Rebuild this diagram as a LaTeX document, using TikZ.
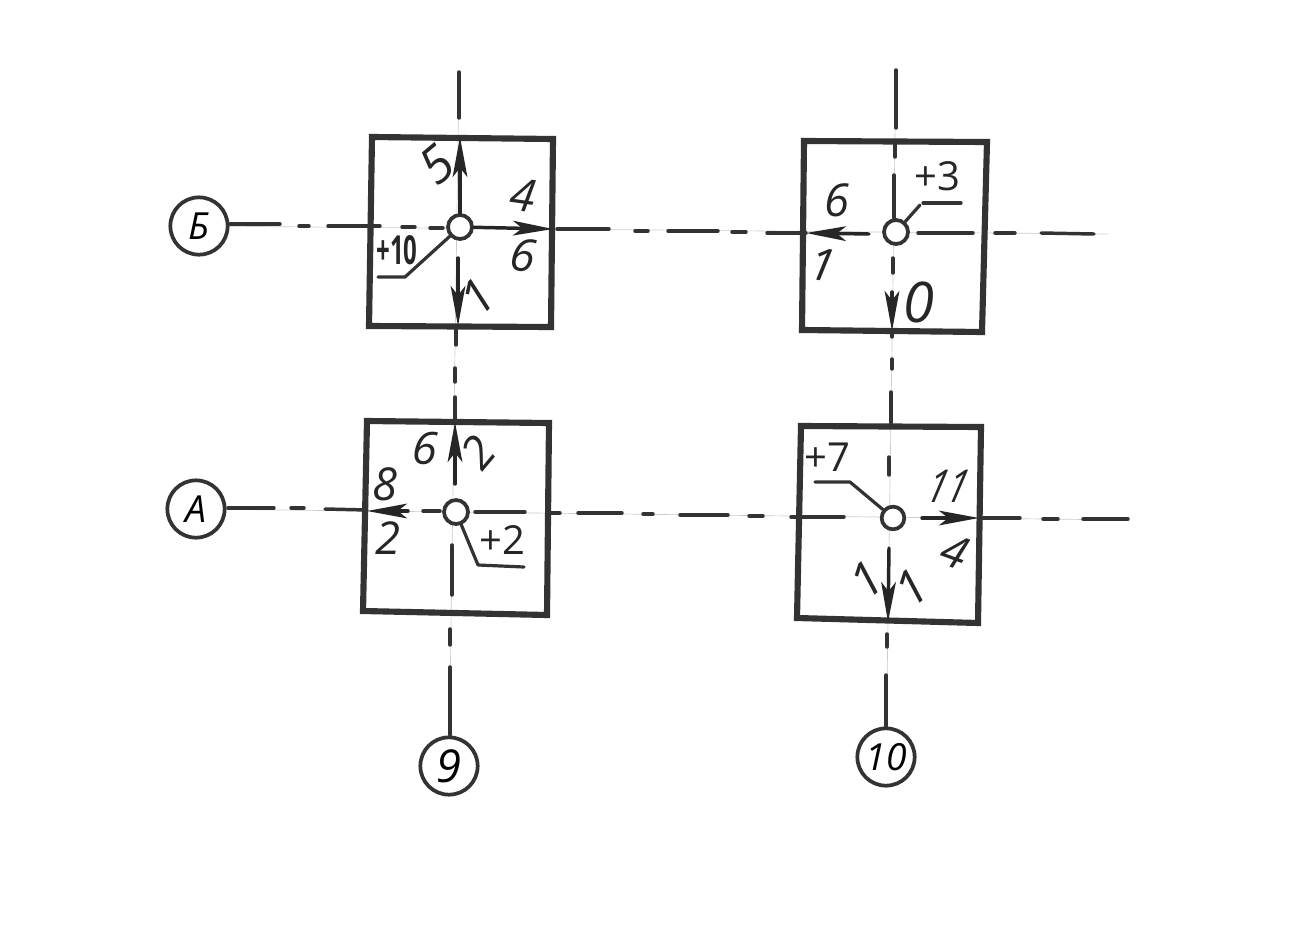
\documentclass[tikz,border=0pt]{standalone}
\usepackage{fontspec}
\setmainfont{Open Sans}
\usetikzlibrary{arrows.meta}
\tikzset{
  x=0.75pt,y=-0.75pt,
  column/.style={draw=black!80,line width=4.6pt,line join=miter},
  faint/.style={draw=black!20,line width=0.5pt},
  dashseg/.style={draw=black!80,line width=2.6pt,line cap=round},
  leader/.style={draw=black!80,line width=2.4pt,line cap=round,line join=round},
  force/.style={draw=black!85,line width=2.6pt,line cap=round,-{Stealth[length=30pt,width=11pt,inset=7pt]}},
  joint/.style={circle,draw=black!80,fill=white,line width=2.8pt,minimum size=18pt,inner sep=0pt},
  bubble/.style={circle,draw=black!80,fill=white,line width=2.8pt,minimum size=43pt,inner sep=0pt,font=\fontsize{28}{30}\selectfont\itshape},
  num/.style={inner sep=0pt,text=black!85,font=\fontsize{34}{36}\selectfont\itshape},
  lvl/.style={inner sep=0pt,text=black!85,font=\fontsize{30}{32}\selectfont}
}
\begin{document}
\begin{tikzpicture}
\useasboundingbox[fill=white] (0,0) rectangle (1289,928);

% grid bubbles and free axis ends
\node[bubble] (B) at (199,226) {Б};
\node[bubble] (A) at (196,509) {А};
\node[bubble,font=\fontsize{34}{36}\selectfont\itshape] (n9) at (449,766) {9};
\node[bubble] (n10) at (886,757) {10};
\coordinate (v9top) at (459,72);
\coordinate (v10top) at (896,70);
\coordinate (hBend) at (1108,234);
\coordinate (hAend) at (1128,520);

% faint axis lines
\draw[faint] (v9top) -- (n9);
\draw[faint] (v10top) -- (n10);
\draw[faint] (B) -- (hBend);
\draw[faint] (A) -- (hAend);

% columns
\draw[column] (372,137) -- (553,139) -- (551,327) -- (369,326) -- cycle;
\draw[column] (804,141) -- (987,142) -- (982,332) -- (802,330) -- cycle;
\draw[column] (367,421) -- (549,423) -- (547,615) -- (363,611) -- cycle;
\draw[column] (801,426) -- (981,427) -- (978,623) -- (797,618) -- cycle;

% axis dashes
\foreach \xa/\ya/\xb/\yb in {
  459/72/459/118, 456/330/456/345, 455/368/455/382, 455/397/455/420,
  452/545/452/595, 450/629/450/645, 450/667/450/735,
  896/70/896/128, 895/142/895/157, 894/175/894/218, 893/258/893/273,
  892/333/892/337, 892/359/892/369, 891/392/891/423, 889/457/889/475,
  887/634/887/647, 886/675/886/727,
  230/224/280/224, 299/226/309/226, 328/226/380/226, 402/227/415/227, 430/228/443/228,
  557/229/609/229, 635/231/648/231, 668/231/718/231, 732/232/746/232, 767/233/806/233,
  918/233/973/233, 995/233/1015/233, 1041/233/1094/234,
  228/508/274/508, 291/508/304/508, 325/509/367/510, 423/511/440/511,
  475/512/525/512, 548/513/560/513, 578/513/622/513, 643/514/653/514, 680/515/728/515,
  749/516/763/516, 791/517/844/517,
  983/518/1020/518, 1043/519/1058/519, 1083/519/1128/519}
  {\draw[dashseg] (\xa,\ya) -- (\xb,\yb);}

% joints
\node[joint] (c1) at (460,227) {};
\node[joint] (c2) at (896,232) {};
\node[joint] (c3) at (456,512) {};
\node[joint,minimum size=17pt] (c4) at (893,518) {};

% forces
\coordinate (t1u) at (460,137); \coordinate (t1d) at (458,326);
\coordinate (t1r) at (553,229);
\coordinate (t2l) at (806,233); \coordinate (t2d) at (892,331);
\coordinate (t3u) at (455,422); \coordinate (t3l) at (367,511);
\coordinate (t4r) at (979,518); \coordinate (t4d) at (888,622);
\draw[force] (c1) -- (t1u);
\draw[force] (458,258) -- (t1d);
\draw[force] (c1) -- (t1r);
\draw[force] (869,234) -- (t2l);
\draw[force] (892,292) -- (t2d);
\draw[force] (455,484) -- (t3u);
\draw[force] (408,511) -- (t3l);
\draw[force] (922,518) -- (t4r);
\draw[force] (889,548) -- (t4d);

% leaders
\coordinate (l1a) at (405,277); \coordinate (l1b) at (378,277);
\coordinate (l2a) at (920,205);
\coordinate (l2b) at (923,203); \coordinate (l2c) at (961,203);
\coordinate (l3a) at (478,565); \coordinate (l3b) at (524,567);
\coordinate (l4a) at (850,482); \coordinate (l4b) at (815,482);
\draw[leader] (c1) -- (l1a) -- (l1b);
\draw[leader] (c2) -- (l2a);
\draw[leader] (l2b) -- (l2c);
\draw[leader] (c3) -- (l3a) -- (l3b);
\draw[leader] (c4) -- (l4a) -- (l4b);

% labels, box 1
\node[num,rotate=40,font=\fontsize{38}{40}\selectfont\itshape] (a1) at (437,165) {5};
\node[num,rotate=-8] (a2) at (523,195) {4};
\node[num,rotate=-8] (a3) at (523,255) {6};
\node[lvl,font=\fontsize{30}{32}\selectfont\bfseries,xscale=0.6,transform shape] (a4) at (397,250) {+10};
\node[num,rotate=45,font=\fontsize{36}{38}\selectfont\itshape] (a5) at (478,297) {1};
% labels, box 2
\node[lvl] (b1) at (937,176) {+3};
\node[num] (b2) at (837,200) {6};
\node[num,rotate=-10] (b3) at (823,265) {1};
\node[num,font=\fontsize{42}{44}\selectfont\itshape] (b4) at (919,302) {0};
% labels, box 3
\node[num,rotate=-4] (d1) at (425,448) {6};
\node[num,rotate=50] (d2) at (478,452) {2};
\node[num] (d3) at (385,484) {8};
\node[num] (d4) at (388,538) {2};
\node[lvl] (d5) at (502,540) {+2};
% labels, box 4
\node[lvl] (e1) at (827,457) {+7};
\node[num,xslant=0.25,xscale=0.8,transform shape] (e2) at (949,486) {11};
\node[num,rotate=-20] (e3) at (955,552) {4};
\node[num,rotate=40,font=\fontsize{36}{38}\selectfont\itshape] (e4) at (867,580) {1};
\node[num,rotate=40,font=\fontsize{36}{38}\selectfont\itshape] (e5) at (912,588) {1};
\end{tikzpicture}
\end{document}
